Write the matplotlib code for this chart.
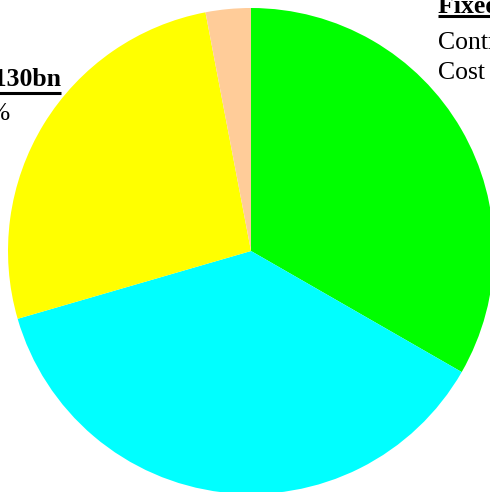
import matplotlib
matplotlib.use("Agg")
import matplotlib.pyplot as plt

# slice shares, clockwise from 12 o'clock
labels = ["Fixed", "Variable", "Other", "Misc"]
shares = [33.3, 37.2, 26.5, 3.0]
colors = ["#00ff00", "#00ffff", "#ffff00", "#ffcc99"]

W, H = 490, 492
fig = plt.figure(figsize=(W / 100, H / 100), dpi=100)
ax = fig.add_axes([0, 0, 1, 1])

ax.pie(shares, colors=colors, startangle=90, counterclock=False,
       center=(251, H - 251), radius=243, frame=True,
       wedgeprops=dict(linewidth=0))
ax.set_xlim(0, W)
ax.set_ylim(0, H)
ax.set_aspect("equal")
ax.axis("off")

serif = "Liberation Serif"
fs = 18.5

# right-hand label block (runs off the edge)
ax.text(438, H - 13, "Fixed costs", fontsize=fs, fontweight="bold",
        family=serif, va="baseline", ha="left")
ax.plot([438, 500], [H - 16, H - 16], color="black", lw=2.2, solid_capstyle="butt")
ax.text(438, H - 49, "Contribution", fontsize=fs, family=serif, va="baseline")
ax.text(438, H - 79, "Cost base", fontsize=fs, family=serif, va="baseline")

# left-hand label block (runs off the edge)
ax.text(61, H - 86, "£130bn", fontsize=fs, fontweight="bold",
        family=serif, va="baseline", ha="right")
ax.plot([-10, 61], [H - 93, H - 93], color="black", lw=2.2, solid_capstyle="butt")
ax.text(11, H - 120, "12%", fontsize=fs, family=serif, va="baseline", ha="right")

fig.savefig("out.png", dpi=100)
